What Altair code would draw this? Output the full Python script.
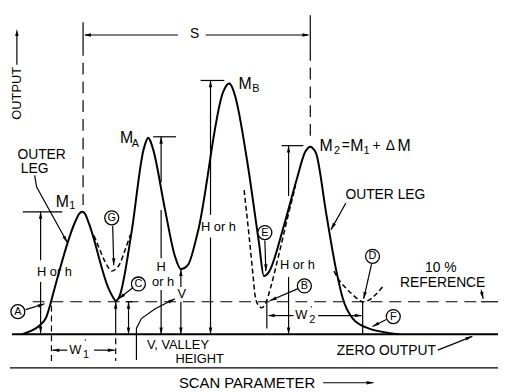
import altair as alt
import pandas as pd

# ---- main scan trace: scan position vs output above zero ----
curve_x = [22, 30, 40, 47, 51, 55, 76, 80, 83, 86, 90, 110, 114, 117, 121, 133, 145, 148, 150, 152,
           155, 167, 177, 183, 190, 200, 226, 230, 232, 234, 238, 250, 262, 267, 272, 287, 300,
           309, 312, 314, 316, 320, 330, 340, 347, 357, 373, 397, 404]
curve_y = [0, 3, 9, 18, 31, 46, 114, 122, 124, 122, 112, 46, 38, 34, 39, 103, 186, 196, 199, 196,
           187, 126, 79, 66, 70, 103, 246, 253, 254, 252, 241, 176, 93, 59, 63, 109, 156,
           185, 189, 190, 189, 183, 123, 66, 36, 16, 6, 1, 0]

# ---- dashed alternative traces (G, E/B, D) ----
g_x = [95, 100, 106, 110, 113, 117, 121, 126, 132]
g_y = [100, 88, 74, 67, 64, 66, 71, 84, 101]
eb_x = [247, 252, 256, 258, 261, 265, 269, 274, 282, 291, 299]
eb_y = [146, 100, 60, 40, 30, 27, 32, 48, 80, 118, 150]
d_x = [338, 343, 349, 356, 363, 367, 372, 380, 387]
d_y = [64, 55, 48, 41, 35, 33, 34, 40, 48]

# ---- annotation segments (x, y, x2, y2) ----
solid_segments = [
    (10, -34, 504, -34),                       # scan parameter baseline
    (487, 33, 504, 33),                        # 10% reference stub
    (17, 304, 17, 273),                        # OUTPUT arrow
    (84, 316, 84, 294), (86, 303, 180, 303), (208, 303, 312, 303), (314, 323, 314, 289),  # S
    (23, 124, 63, 124), (41, 124, 41, 75), (41, 53, 41, 1),          # M1 H
    (117, 0, 117, 33),                          # C arrow
    (130, 0, 130, 33), (127, 33, 134, 33),      # V
    (155, 200, 178, 200), (163, 200, 163, 154), (163, 126, 163, 77), (163, 45, 163, 0),  # MA H
    (183, 0, 183, 33), (183, 48, 183, 66),      # valley height
    (203, 257, 227, 257), (213, 257, 213, 121), (213, 98, 213, 0),   # MB H
    (285, 191, 307, 191), (292, 191, 292, 140), (292, 58, 292, 0),   # M2 H
    (53, -16, 68, -16), (95, -16, 116, -16),    # W1'
    (272, 19, 297, 19), (322, 19, 366, 19),     # W2'
    (270, 33, 270, 6), (367, 33, 367, 0),
    (350, 133, 335, 106),                       # outer leg leader
    (26, 25, 45, 31), (301, 46, 273, 34), (134, 47, 120, 36), (376, 71, 368, 36),
    (268, 95, 269, 64), (391, 15, 377, 8), (114, 110, 115, 70),     # circle leaders
    (487, 45, 489, 36),                         # 10% leader
    (443, -16, 478, -2),                        # zero output leader
    (327, -49, 378, -49),                       # scan parameter arrow
]
zero_segment = [(12, 0, 504, 0)]
long_dash_segments = [(33, 33, 487, 33), (84, 294, 84, 131), (314, 289, 314, 198)]
short_dash_segments = [(52, 29, 52, -27), (117, -4, 117, -27)]

# polyline leaders
outer_leg_leader = [(35, 161), (37, 149), (68, 93)]
valley_leader = [(138, -26), (138, 6), (143, 16), (157, 26), (177, 36)]

# arrowheads (tip x, tip y, heading in degrees clockwise from up)
arrowheads = [
    (17, 309, 0), (85, 303, 270), (313, 303, 90), (41, 124, 0), (41, 1, 180), (68, 93, 151),
    (53, -16, 270), (116, -16, 90), (117, 33, 0), (130, 33, 0), (130, 0, 180), (177, 36, 63),
    (163, 200, 0), (163, 0, 180), (183, 66, 0), (183, 0, 180), (213, 257, 0), (213, 0, 180),
    (292, 191, 0), (292, 0, 180), (271, 19, 270), (366, 19, 90), (335, 106, 209),
    (45, 31, 69), (273, 34, 247), (120, 36, 232), (368, 36, 193), (269, 64, 180),
    (377, 8, 243), (115, 70, 180), (478, -2, 68), (378, -49, 90), (489, 36, 167),
]

# circled reference letters
circle_labels = ["A", "B", "C", "D", "E", "F", "G"]
circle_x = [18, 308, 140, 377, 268, 398, 113]
circle_y = [23, 49, 51, 79, 103, 18, 118]

# text labels
big_labels = [("S", 197, 304), ("OUTER", 42, 182), ("LEG", 35, 167), ("OUTER LEG", 390, 141),
              ("10 %", 446, 67), ("REFERENCE", 448, 52), ("ZERO OUTPUT", 391, -17),
              ("=", 350, 191), ("+", 381, 191), ("Δ", 395, 191)]
valley_label = [("V, VALLEY", 180, -11), ("HEIGHT", 202, -25)]
scan_label = [("SCAN PARAMETER", 250, -49)]
mid_labels = [("H or h", 55, 63), ("H", 163, 68), ("or h", 165, 53), ("H or h", 221, 109),
              ("H or h", 301, 70), ("V", 184, 41), ("W", 76, -16), ("W", 305, 20)]
m_labels = [("M", 63, 134), ("M", 128, 199), ("M", 248, 253), ("M", 330, 191), ("M", 361, 191),
            ("M", 409, 191)]
sub_labels = [("1", 73, 130), ("A", 137, 193), ("B", 259, 248), ("2", 341, 186), ("1", 371, 186),
              ("1", 87, -21), ("2", 316, 14)]
prime_labels = [("′", 86, -8), ("′", 315, 26)]

FONT = "Liberation Sans"
XS = alt.Scale(domain=[8, 504], nice=False, zero=False)
YS = alt.Scale(domain=[-56, 328], nice=False, zero=False)


def X(f="x"):
    return alt.X(f"{f}:Q", scale=XS, axis=None)


def Y(f="y"):
    return alt.Y(f"{f}:Q", scale=YS, axis=None)


def seg_df(segs):
    return pd.DataFrame(segs, columns=["x", "y", "x2", "y2"])


def text_df(items):
    return pd.DataFrame(items, columns=["t", "x", "y"])


def rules(segs, **kw):
    return alt.Chart(seg_df(segs)).mark_rule(color="black", **kw).encode(
        x=X(), y=Y(), x2=alt.X2("x2:Q"), y2=alt.Y2("y2:Q"))


def texts(items, size, **kw):
    return alt.Chart(text_df(items)).mark_text(font=FONT, fontSize=size, color="black", **kw).encode(
        x=X(), y=Y(), text="t:N")


curve = alt.Chart(pd.DataFrame({"x": curve_x, "y": curve_y})).mark_line(
    color="black", strokeWidth=2, interpolate="monotone").encode(x=X(), y=Y())

dash_rows = []
for k, (xs, ys) in enumerate([(g_x, g_y), (eb_x, eb_y), (d_x, d_y)]):
    for i, (a, b) in enumerate(zip(xs, ys)):
        dash_rows.append({"k": k, "i": i, "x": a, "y": b})
dashed = alt.Chart(pd.DataFrame(dash_rows)).mark_line(
    color="black", strokeWidth=1.5, strokeDash=[5, 3], interpolate="monotone").encode(
    x=X(), y=Y(), detail="k:N", order="i:Q")

poly_rows = []
for k, pts in enumerate([outer_leg_leader, valley_leader]):
    for i, (a, b) in enumerate(pts):
        poly_rows.append({"k": k, "i": i, "x": a, "y": b})
polys = alt.Chart(pd.DataFrame(poly_rows)).mark_line(
    color="black", strokeWidth=1.2).encode(x=X(), y=Y(), detail="k:N", order="i:Q")

heads = alt.Chart(pd.DataFrame(arrowheads, columns=["x", "y", "a"])).mark_point(
    shape="M0,0L0.55,2.2L-0.55,2.2Z", filled=True, color="black", size=40, opacity=1).encode(
    x=X(), y=Y(), angle=alt.Angle("a:Q", scale=None))

circ_df = pd.DataFrame({"t": circle_labels, "x": circle_x, "y": circle_y})
circles = alt.Chart(circ_df).mark_point(
    shape="circle", filled=True, fill="white", stroke="black", size=200, strokeWidth=1.3,
    opacity=1).encode(x=X(), y=Y())
circle_text = alt.Chart(circ_df).mark_text(font=FONT, fontSize=11, color="black").encode(
    x=X(), y=Y(), text="t:N")

output_label = alt.Chart(text_df([("OUTPUT", 17, 244)])).mark_text(
    font=FONT, fontSize=13, color="black", angle=270).encode(x=X(), y=Y(), text="t:N")

chart = alt.layer(
    rules(long_dash_segments, strokeWidth=1.2, strokeDash=[12, 7]),
    rules(short_dash_segments, strokeWidth=1.2, strokeDash=[6, 4]),
    rules(solid_segments, strokeWidth=1.2),
    rules(zero_segment, strokeWidth=2),
    dashed,
    curve,
    polys,
    heads,
    circles,
    circle_text,
    texts(big_labels, 14),
    texts(valley_label, 13),
    texts(scan_label, 15),
    texts(mid_labels, 13),
    texts(m_labels, 16),
    texts(sub_labels, 11),
    texts(prime_labels, 10),
    output_label,
).properties(
    width=496, height=384, autosize=alt.AutoSizeParams(type="none"), padding=0,
    background="white",
).configure_view(stroke=None)

chart.save("out.html", embed_options={"renderer": "svg", "actions": False})
